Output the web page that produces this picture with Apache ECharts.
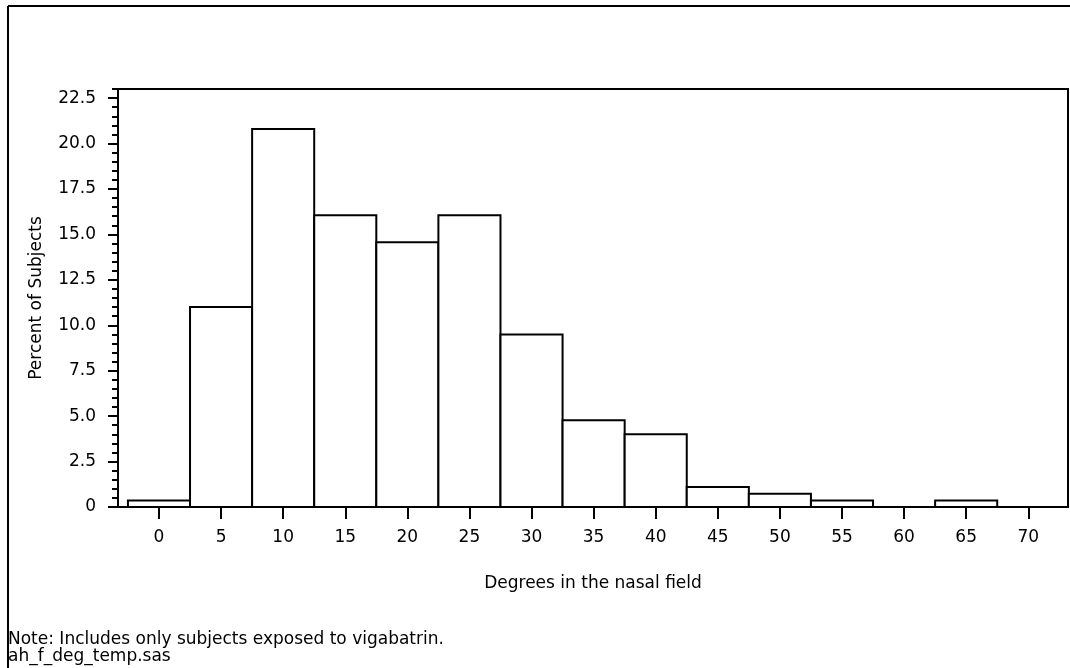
<!DOCTYPE html>
<html>
<head>
<meta charset="utf-8">
<script src="https://cdn.jsdelivr.net/npm/echarts@6/dist/echarts.min.js"></script>
<style>
html,body{margin:0;padding:0;background:#fff;}
#chart{width:1070px;height:668px;}
</style>
</head>
<body>
<div id="chart"></div>
<script>
// Histogram midpoints (degrees in the nasal field)
const midpoints = [0, 5, 10, 15, 20, 25, 30, 35, 40, 45, 50, 55, 60, 65, 70];
// Percent of subjects per bin
const percents = [0.36, 11.0, 20.8, 16.05, 14.57, 16.05, 9.49, 4.77, 4.0, 1.1, 0.73, 0.36, 0, 0.36, 0];
// Tick labels
const xTicks = [0, 5, 10, 15, 20, 25, 30, 35, 40, 45, 50, 55, 60, 65, 70];
const yTicks = [0, 2.5, 5, 7.5, 10, 12.5, 15, 17.5, 20, 22.5];
const binWidth = 5;
const xTitle = 'Degrees in the nasal field';
const yTitle = 'Percent of Subjects';
const noteLine1 = 'Note: Includes only subjects exposed to vigabatrin.';
const noteLine2 = 'ah_f_deg_temp.sas';

const FONT = 'DejaVu Sans';
const FS = 17;
const chart = echarts.init(document.getElementById('chart'), null, {renderer: 'canvas'});

const data = midpoints.map((m, i) => [m, percents[i]]);

const option = {
  backgroundColor: '#fff',
  animation: false,
  grid: {left: 118, right: 2, top: 89, bottom: 161, show: true, borderColor: '#000', borderWidth: 2, backgroundColor: 'transparent'},
  xAxis: {
    type: 'value', min: -3.3, max: 73.2,
    name: xTitle, nameLocation: 'middle', nameGap: 68,
    nameTextStyle: {fontFamily: FONT, fontSize: FS, color: '#000'},
    axisLine: {show: true, onZero: false, lineStyle: {color: '#000', width: 2}},
    axisTick: {show: true, inside: false, length: 12, lineStyle: {color: '#000', width: 2}, customValues: xTicks},
    axisLabel: {show: true, customValues: xTicks, margin: 22, fontFamily: FONT, fontSize: FS, color: '#000'},
    splitLine: {show: false}
  },
  yAxis: [{
    type: 'value', min: 0, max: 23, interval: 0.5,
    name: yTitle, nameLocation: 'middle', nameGap: 73, nameRotate: 90,
    nameTextStyle: {fontFamily: FONT, fontSize: FS, color: '#000'},
    axisLine: {show: true, onZero: false, lineStyle: {color: '#000', width: 2}},
    axisTick: {show: true, inside: false, length: 6, lineStyle: {color: '#000', width: 2}},
    axisLabel: {show: true, customValues: yTicks, margin: 22, fontFamily: FONT, fontSize: FS, color: '#000',
      formatter: v => (v === 0 ? '0' : v.toFixed(1))},
    splitLine: {show: false}
  }, {
    type: 'value', min: 0, max: 23, position: 'left', offset: 0,
    axisLine: {show: false, onZero: false},
    axisTick: {show: true, inside: false, length: 10, lineStyle: {color: '#000', width: 2}, customValues: yTicks},
    axisLabel: {show: false},
    splitLine: {show: false}
  }],
  series: [{
    type: 'custom',
    data: data,
    encode: {x: 0, y: 1},
    renderItem: function (params, api) {
      const m = api.value(0), v = api.value(1);
      if (!v) return null;
      const p0 = api.coord([m - binWidth / 2, v]);
      const p1 = api.coord([m + binWidth / 2, 0]);
      return {
        type: 'rect',
        shape: {x: p0[0], y: p0[1], width: p1[0] - p0[0], height: p1[1] - p0[1]},
        style: {fill: '#fff', stroke: '#000', lineWidth: 2}
      };
    }
  }],
  graphic: [
    {type: 'line', shape: {x1: 8, y1: 6, x2: 1070, y2: 6}, style: {stroke: '#000', lineWidth: 2}, z: 100},
    {type: 'line', shape: {x1: 8, y1: 6, x2: 8, y2: 668}, style: {stroke: '#000', lineWidth: 2}, z: 100},
    {type: 'text', left: 8, top: 631, style: {text: noteLine1, font: FS + 'px "DejaVu Sans"', fill: '#000'}},
    {type: 'text', left: 8, top: 648, style: {text: noteLine2, font: FS + 'px "DejaVu Sans"', fill: '#000'}}
  ]
};
chart.setOption(option);
</script>
</body>
</html>
